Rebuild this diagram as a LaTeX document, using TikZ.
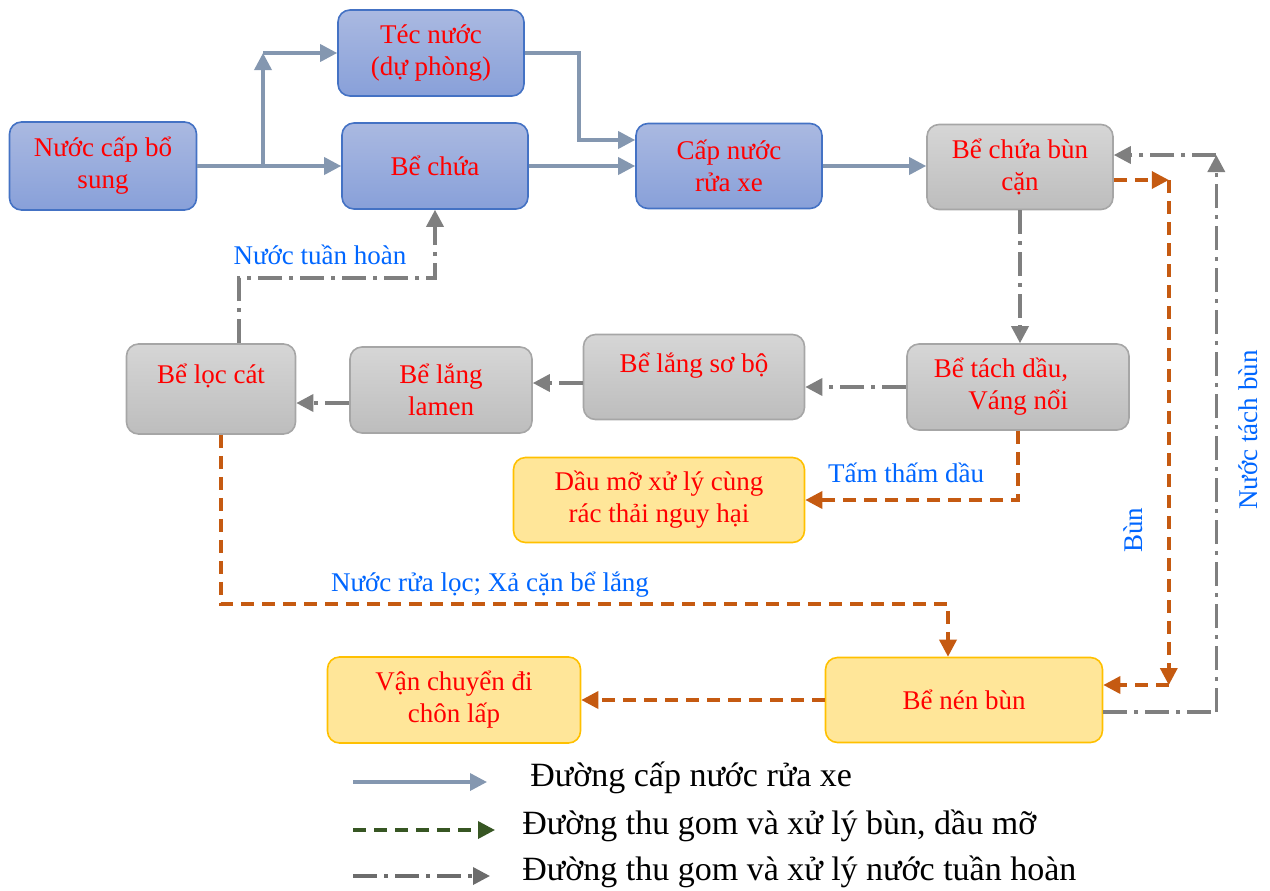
\documentclass[tikz,border=0pt]{standalone}
\usepackage{fontspec}
\setmainfont{Liberation Serif}
\usetikzlibrary{arrows.meta, positioning}

\definecolor{boxblue}{HTML}{4472C4}
\definecolor{blueTop}{HTML}{AAB9E1}
\definecolor{blueBot}{HTML}{88A0D9}
\definecolor{grayTop}{HTML}{D6D6D6}
\definecolor{grayBot}{HTML}{BDBDBD}
\definecolor{grayEdge}{HTML}{A6A6A6}
\definecolor{yellowFill}{HTML}{FFE699}
\definecolor{yellowEdge}{HTML}{FFC000}
\definecolor{supplyCol}{HTML}{8497B0}
\definecolor{sludgeCol}{HTML}{C55A11}
\definecolor{recycleCol}{HTML}{7F7F7F}
\definecolor{legendGreen}{HTML}{375623}
\definecolor{labelBlue}{RGB}{0,102,255}

\begin{document}
\begin{tikzpicture}[x=0.5pt, y=-0.5pt, >={Triangle[length=8.5pt,width=8.5pt]}]
    \tikzstyle{box} = [rounded corners=6pt, thick, align=center, text=red,
	font=\fontsize{13.5}{16}\selectfont, inner sep=2pt]
    \tikzstyle{bluebox} = [box, draw=boxblue, top color=blueTop, bottom color=blueBot]
    \tikzstyle{graybox} = [box, draw=grayEdge, top color=grayTop, bottom color=grayBot]
    \tikzstyle{yellowbox} = [box, draw=yellowEdge, fill=yellowFill]
    \tikzstyle{supply} = [draw=supplyCol, line width=1.75pt]
    \tikzstyle{sludge} = [draw=sludgeCol, line width=1.75pt, dash pattern=on 6.5pt off 4pt]
    \tikzstyle{recycle} = [draw=recycleCol, line width=1.75pt,
	dash pattern=on 12pt off 3.5pt on 2pt off 3.5pt]
    \tikzstyle{flowlabel} = [text=labelBlue, font=\fontsize{13.5}{16}\selectfont, inner sep=0pt]
    \tikzstyle{legendtext} = [anchor=west, font=\fontsize{17}{20}\selectfont, inner sep=0pt]

	\useasboundingbox (0,0) rectangle (1270,890);

	% boxes
	\node[bluebox, minimum width=93.5pt, minimum height=44pt] (nuoccap) at (103,166) {Nước cấp bổ\\sung};
	\node[bluebox, minimum width=93pt, minimum height=43pt] (tec) at (431,53) {Téc nước\\(dự phòng)};
	\node[bluebox, minimum width=93pt, minimum height=43pt] (bechua) at (435,166) {Bể chứa};
	\node[bluebox, minimum width=93pt, minimum height=42.5pt] (capnuoc) at (729,166) {Cấp nước\\rửa xe};
	\node[graybox, minimum width=93pt, minimum height=42.5pt] (chuabun) at (1020,167) {Bể chứa bùn\\cặn};
	\node[graybox, minimum width=111pt, minimum height=43pt, align=right] (tachdau) at (1018,387)
		{Bể tách dầu,\hspace*{17pt}\\Váng nổi\hspace*{17pt}};
	\node[graybox, minimum width=110.5pt, minimum height=42.5pt, text depth=14pt] (langsobo) at (694,377) {Bể lắng sơ bộ};
	\node[graybox, minimum width=91pt, minimum height=43pt] (lamen) at (441,390) {Bể lắng\\lamen};
	\node[graybox, minimum width=84.5pt, minimum height=45pt, text depth=15pt] (loccat) at (211,389) {Bể lọc cát};
	\node[yellowbox, minimum width=145.5pt, minimum height=42.5pt] (daumo) at (659,500) {Dầu mỡ xử lý cùng\\rác thải nguy hại};
	\node[yellowbox, minimum width=138.5pt, minimum height=42.5pt] (nenbun) at (964,700) {Bể nén bùn};
	\node[yellowbox, minimum width=126.5pt, minimum height=43pt] (chonlap) at (454,700) {Vận chuyển đi\\chôn lấp};

	% water supply
	\coordinate (split) at (263,166);
	\draw[supply,->] (nuoccap.east) -- (bechua.west);
	\draw[supply,->] (split) -- (split |- tec.west);
	\draw[supply,->] (split |- tec.west) -- (tec.west);
	\draw[supply,->] (tec.east) -- ++(54,0) |- ([yshift=13pt]capnuoc.west);
	\draw[supply,->] (bechua.east) -- (capnuoc.west);
	\draw[supply,->] (capnuoc.east) -- (capnuoc.east -| chuabun.west);

	% recycled water
	\draw[recycle,->] (chuabun.south) -- (chuabun.south |- tachdau.north);
	\draw[recycle,->] (tachdau.west) -- (tachdau.west -| langsobo.east);
	\draw[recycle,->] ([yshift=-3pt]langsobo.west) -- ([yshift=-3pt]langsobo.west -| lamen.east);
	\draw[recycle,->] ([yshift=-6.5pt]lamen.west) -- ([yshift=-6.5pt]lamen.west -| loccat.east);
	\draw[recycle,->] ([xshift=14pt]loccat.north) -- ++(0,-65) -| (bechua.south);
	\node[flowlabel] (lbltuanhoan) at (320,255) {Nước tuần hoàn};

	\coordinate (nenout) at ([yshift=-6pt]nenbun.east);
	\coordinate (bunin) at ([yshift=6pt]chuabun.east);
	\coordinate (tachturn) at ([xshift=56.5pt]nenout);
	\draw[recycle] (nenout) -- (tachturn);
	\draw[recycle,->] (tachturn) -- (tachturn |- bunin);
	\draw[recycle,->] (tachturn |- bunin) -- (bunin);
	\node[flowlabel, rotate=90] (lbltachbun) at (1248,430) {Nước tách bùn};

	% sludge and oil
	\coordinate (bunout) at ([yshift=-6.5pt]chuabun.east);
	\coordinate (nenin) at ([yshift=7.5pt]nenbun.east);
	\coordinate (bunturn) at ([xshift=27.5pt]bunout);
	\draw[sludge,->] (bunout) -- (bunturn);
	\draw[sludge,->] (bunturn) -- (bunturn |- nenin);
	\draw[sludge,->] (bunturn |- nenin) -- (nenin);
	\node[flowlabel, rotate=90] (lblbun) at (1133,530) {Bùn};

	\draw[sludge,->] (tachdau.south) |- (daumo.east);
	\node[flowlabel] (lbltham) at (906,473) {Tấm thấm dầu};

	\draw[sludge,->] ([xshift=5pt]loccat.south) -- ++(0,169) -| ([xshift=-8pt]nenbun.north);
	\node[flowlabel] (lblrualoc) at (490,585) {Nước rửa lọc; Xả cặn bể lắng};

	\draw[sludge,->] (nenbun.west) -- (chonlap.east);

	% legend
	\coordinate (leg1a) at (353,782);
	\coordinate (leg1b) at (487,782);
	\coordinate (leg2a) at (353,830);
	\coordinate (leg2b) at (495,830);
	\coordinate (leg3a) at (353,876);
	\coordinate (leg3b) at (490,876);
	\draw[supply,->] (leg1a) -- (leg1b);
	\draw[sludge, draw=legendGreen,->] (leg2a) -- (leg2b);
	\draw[recycle, draw=recycleCol!85!black,->] (leg3a) -- (leg3b);
	\node[legendtext] (leg1) at (530,778) {Đường cấp nước rửa xe};
	\node[legendtext] (leg2) at (522,826) {Đường thu gom và xử lý bùn, dầu mỡ};
	\node[legendtext] (leg3) at (522,872) {Đường thu gom và xử lý nước tuần hoàn};
\end{tikzpicture}
\end{document}
